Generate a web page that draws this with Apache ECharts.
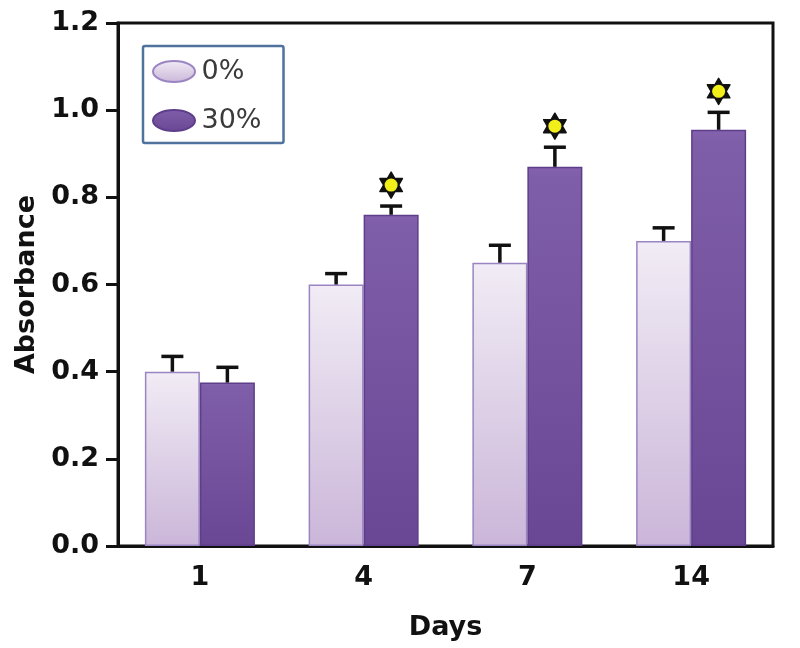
<!DOCTYPE html>
<html>
<head>
<meta charset="utf-8">
<script src="https://cdn.jsdelivr.net/npm/echarts@6/dist/echarts.min.js"></script>
<style>
  html, body { margin: 0; padding: 0; background: #fff; }
  #chart { width: 800px; height: 648px; }
</style>
</head>
<body>
<div id="chart"></div>
<script>
  // 数据
  var days = ['1', '4', '7', '14'];
  var mean0 = [0.40, 0.60, 0.65, 0.70];
  var err0 = [0.035, 0.025, 0.04, 0.03];
  var mean30 = [0.375, 0.76, 0.87, 0.955];
  var err30 = [0.035, 0.02, 0.045, 0.04];
  var sig30 = [false, true, true, true];
  var yTicks = [0, 0.2, 0.4, 0.6, 0.8, 1.0, 1.2];

  var barW = 55;
  var font = 'DejaVu Sans';

  // error bar + star data: [category, mean, err, offset, star]
  var errData = [];
  days.forEach(function (d, i) {
    errData.push([i, mean0[i], err0[i], -barW / 2, 0]);
    errData.push([i, mean30[i], err30[i], barW / 2, sig30[i] ? 1 : 0]);
  });

  function hexagram(cx, cy, r) {
    var pts1 = [], pts2 = [];
    for (var k = 0; k < 3; k++) {
      var a1 = -Math.PI / 2 + k * 2 * Math.PI / 3;
      var a2 = Math.PI / 2 + k * 2 * Math.PI / 3;
      pts1.push([cx + r * Math.cos(a1), cy + r * Math.sin(a1)]);
      pts2.push([cx + r * Math.cos(a2), cy + r * Math.sin(a2)]);
    }
    return [pts1, pts2];
  }

  var ec = echarts.init(document.getElementById('chart'));
  var option = {
    animation: false,
    backgroundColor: '#fff',
    grid: {
      left: 118, right: 27, top: 23, bottom: 102,
      show: true, borderColor: '#111', borderWidth: 3
    },
    legend: {
      orient: 'vertical',
      left: 143, top: 46,
      padding: [12, 22, 9, 9],
      itemGap: 22,
      itemWidth: 45, itemHeight: 21,
      borderColor: '#4f739c', borderWidth: 2.5, borderRadius: 2,
      icon: 'path://M0,10 A20,10 0 1,1 40,10 A20,10 0 1,1 0,10 Z',
      textStyle: { fontFamily: font, fontSize: 27, color: '#3a3a3a' },
      data: ['0%', '30%']
    },
    xAxis: {
      type: 'category',
      data: days,
      name: 'Days',
      nameLocation: 'middle',
      nameGap: 68,
      nameTextStyle: { fontFamily: font, fontWeight: 'bold', fontSize: 27, color: '#111' },
      axisLine: { lineStyle: { color: '#111', width: 3 } },
      axisTick: { alignWithLabel: true, length: 12, lineStyle: { color: '#111', width: 3 } },
      axisLabel: { fontFamily: font, fontWeight: 'bold', fontSize: 27, color: '#111', margin: 18 }
    },
    yAxis: {
      type: 'value',
      min: 0, max: 1.2, interval: 0.2,
      name: 'Absorbance',
      nameLocation: 'middle',
      nameGap: 74,
      nameTextStyle: { fontFamily: font, fontWeight: 'bold', fontSize: 27, color: '#111' },
      splitLine: { show: false },
      axisLine: { show: true, lineStyle: { color: '#111', width: 3 } },
      axisTick: { show: true, length: 12, lineStyle: { color: '#111', width: 3 } },
      axisLabel: {
        fontFamily: font, fontWeight: 'bold', fontSize: 27, color: '#111', margin: 19,
        formatter: function (v) { return yTicks.indexOf(+v.toFixed(1)) >= 0 ? v.toFixed(1) : ''; }
      }
    },
    series: [
      {
        name: '0%',
        type: 'bar',
        data: mean0,
        barWidth: barW,
        barGap: 0,
        itemStyle: {
          color: new echarts.graphic.LinearGradient(0, 0, 0, 1, [
            { offset: 0, color: '#f1ecf5' },
            { offset: 1, color: '#cbb6d9' }
          ]),
          borderColor: '#9a84c2',
          borderWidth: 1.5
        }
      },
      {
        name: '30%',
        type: 'bar',
        data: mean30,
        barWidth: barW,
        itemStyle: {
          color: new echarts.graphic.LinearGradient(0, 0, 0, 1, [
            { offset: 0, color: '#8462ad' },
            { offset: 0.03, color: '#7f5ea9' },
            { offset: 1, color: '#6a4794' }
          ]),
          borderColor: '#5e3e8a',
          borderWidth: 1.5
        }
      },
      {
        type: 'custom',
        data: errData,
        z: 10,
        renderItem: function (params, api) {
          var i = api.value(0);
          var base = api.coord([i, api.value(1)]);
          var top = api.coord([i, api.value(1) + api.value(2)]);
          var x = base[0] + api.value(3);
          var children = [
            { type: 'line', shape: { x1: x, y1: base[1], x2: x, y2: top[1] },
              style: { stroke: '#111', lineWidth: 3.5 } },
            { type: 'line', shape: { x1: x - 11, y1: top[1], x2: x + 11, y2: top[1] },
              style: { stroke: '#111', lineWidth: 3.5 } }
          ];
          if (api.value(4)) {
            var cy = top[1] - 21;
            var tri = hexagram(x, cy, 13);
            children.push({ type: 'polygon', shape: { points: tri[0] },
              style: { fill: '#111', stroke: '#111', lineWidth: 1.5, lineJoin: 'round' } });
            children.push({ type: 'polygon', shape: { points: tri[1] },
              style: { fill: '#111', stroke: '#111', lineWidth: 1.5, lineJoin: 'round' } });
            children.push({ type: 'circle', shape: { cx: x, cy: cy, r: 6.5 },
              style: { fill: '#f2ee1a' } });
          }
          return { type: 'group', children: children };
        }
      }
    ]
  };
  ec.setOption(option);
</script>
</body>
</html>
